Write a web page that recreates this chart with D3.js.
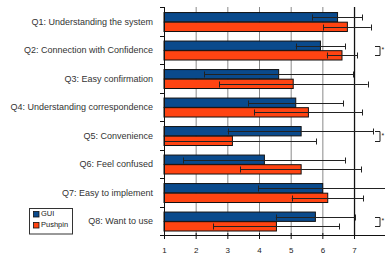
<!DOCTYPE html>
<html><head><meta charset="utf-8">
<script src="https://cdn.jsdelivr.net/npm/d3@7"></script>
<style>body{margin:0;background:#fff;}svg{display:block;font-family:"Liberation Sans",Arial,sans-serif;}</style>
</head><body>
<svg id="c" width="385" height="257"></svg>
<script>
const categories = ["Q1: Understanding the system","Q2: Connection with Confidence","Q3: Easy confirmation","Q4: Understanding correspondence","Q5: Convenience","Q6: Feel confused","Q7: Easy to implement","Q8: Want to use"];
const seriesNames = ["GUI","Pushpin"];
const guiMean = [6.48,5.94,4.62,5.16,5.33,4.17,6.01,5.78];
const guiLow  = [5.68,5.16,2.27,3.66,3.01,1.61,3.98,4.53];
const guiHigh = [7.26,6.72,6.98,6.66,7.61,6.71,8.04,7.03];
const pushMean = [6.79,6.62,5.08,5.56,3.16,5.33,6.17,4.55];
const pushLow  = [6.03,6.14,2.75,3.85,0.52,3.40,5.03,2.56];
const pushHigh = [7.53,7.10,7.43,7.26,5.80,7.22,7.29,6.53];
const significant = ["Q2: Connection with Confidence","Q5: Convenience","Q8: Want to use"];
const xTicks = [1,2,3,4,5,6,7];
const colors = ["#0a4a8c","#ff4412"];

const svg = d3.select("#c");
const x = d3.scaleLinear().domain([1,8]).range([164,385.7]);
const y = d3.scaleBand().domain(categories).range([7,235]);
const sub = d3.scaleBand().domain(seriesNames).range([0.195,0.86]).paddingInner(0.03);

// gridlines
svg.append("g").selectAll("line").data(xTicks.filter(d=>d>1)).join("line")
  .attr("x1",d=>x(d)+0.5).attr("x2",d=>x(d)+0.5).attr("y1",7).attr("y2",235)
  .attr("stroke",d=>d===7?"#111":"#8a8a8a").attr("stroke-width",d=>d===7?1.3:1);

const data = [];
categories.forEach((c,i)=>{
  data.push({c,s:"GUI",m:guiMean[i],lo:guiLow[i],hi:guiHigh[i]});
  data.push({c,s:"Pushpin",m:pushMean[i],lo:pushLow[i],hi:pushHigh[i]});
});
const bw = y.bandwidth();
const by = d => y(d.c) + bw*sub(d.s);
const bh = bw*sub.bandwidth();

svg.append("g").selectAll("rect").data(data).join("rect")
  .attr("x",x(1)).attr("y",by).attr("width",d=>x(d.m)-x(1)).attr("height",bh)
  .attr("fill",d=>colors[seriesNames.indexOf(d.s)]).attr("stroke","#111").attr("stroke-width",1);

// error bars
const eb = svg.append("g").attr("stroke","#222").attr("stroke-width",1);
const cx = v => x(Math.max(1,v));
data.forEach(d=>{
  const cy = Math.round(by(d)+bh/2)+0.5;
  eb.append("line").attr("x1",cx(d.lo)).attr("x2",x(d.hi)).attr("y1",cy).attr("y2",cy);
  [d.lo,d.hi].forEach(v=>{
    eb.append("line").attr("x1",Math.round(cx(v))+0.5).attr("x2",Math.round(cx(v))+0.5).attr("y1",cy-3).attr("y2",cy+3);
  });
});

// significance brackets
const sg = svg.append("g");
significant.forEach(c=>{
  const y1 = Math.round(y(c)+bw*sub("GUI")+bh/2)+0.5;
  const y2 = Math.round(y(c)+bw*sub("Pushpin")+bh/2)+0.5;
  sg.append("path").attr("d",`M375,${y1}H380V${y2}H375`).attr("fill","none").attr("stroke","#222").attr("stroke-width",1);
  sg.append("text").attr("x",381.5).attr("y",(y1+y2)/2+1).attr("font-size",7).attr("fill","#222").text("*");
});

// x axis
const xa = svg.append("g").attr("transform","translate(0,235)")
  .call(d3.axisBottom(x).tickValues(xTicks).tickFormat(d3.format("d")).tickSizeInner(4).tickSizeOuter(0).tickPadding(8));
xa.select(".domain").attr("d","M160,0.5H385").attr("stroke","#111");
xa.selectAll(".tick line").attr("y1",-2).attr("y2",4).attr("stroke","#111");
xa.selectAll(".tick text").attr("font-size",8).attr("fill","#222").attr("font-family","Liberation Sans, Arial, sans-serif");

// y axis
const ya = svg.append("g");
ya.append("line").attr("x1",164.5).attr("x2",164.5).attr("y1",7).attr("y2",235).attr("stroke","#111");
const bounds = categories.map(c=>y(c)).concat([y.range()[1]]);
ya.selectAll("line.t").data(bounds).join("line").attr("class","t")
  .attr("x1",160).attr("x2",164).attr("y1",d=>Math.round(d)+0.5).attr("y2",d=>Math.round(d)+0.5).attr("stroke","#111");
ya.selectAll("text").data(categories).join("text")
  .attr("x",153).attr("y",c=>y(c)+bw/2+1).attr("text-anchor","end").attr("dominant-baseline","middle")
  .attr("font-size",9).attr("fill","#333").text(c=>c);

// legend
const lg = svg.append("g");
lg.append("rect").attr("x",29.5).attr("y",208.5).attr("width",43).attr("height",25.5).attr("fill","#fff").attr("stroke","#333");
seriesNames.forEach((s,i)=>{
  lg.append("rect").attr("x",33.5).attr("y",211.5+i*11).attr("width",5.5).attr("height",5.5)
    .attr("fill",colors[i]).attr("stroke","#111").attr("stroke-width",0.8);
  lg.append("text").attr("x",41).attr("y",214.5+i*11).attr("dominant-baseline","middle")
    .attr("font-size",7.5).attr("fill","#222").text(s);
});
</script>
</body></html>
